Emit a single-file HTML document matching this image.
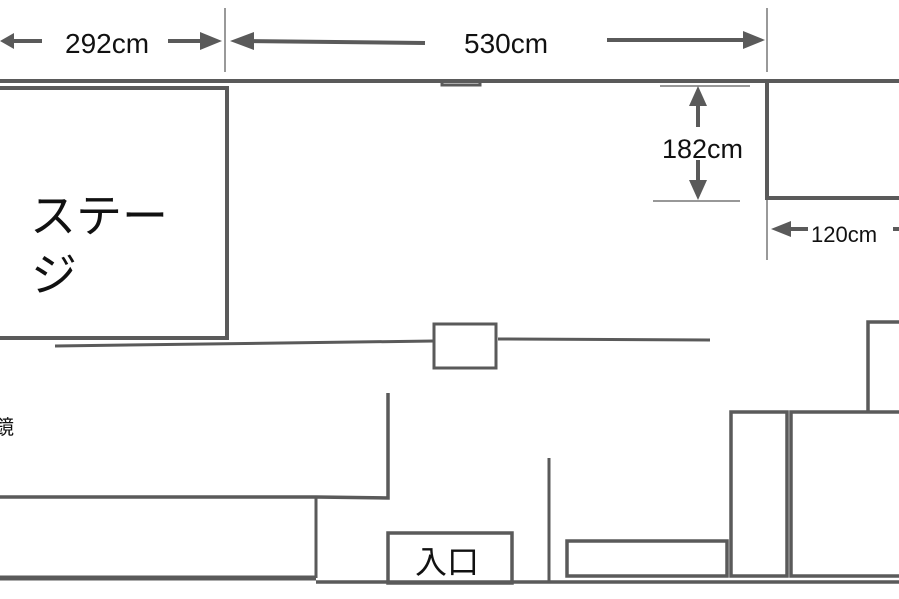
<!DOCTYPE html>
<html><head><meta charset="utf-8"><style>
html,body{margin:0;padding:0;background:#fff;}
svg{display:block;}
text{font-family:"Liberation Sans","Noto Sans CJK JP",sans-serif;fill:#111;}
</style></head><body>
<svg width="899" height="599" viewBox="0 0 899 599" xmlns="http://www.w3.org/2000/svg">
<g stroke="#5a5a5a" fill="none" stroke-width="4">
  <line x1="0" y1="81" x2="899" y2="81"/>
  <rect x="442" y="81" width="38" height="4" stroke-width="3"/>
  <polyline points="0,88 227,88 227,338 0,338"/>
  <polyline points="767,81 767,198 899,198"/>
  <line x1="55" y1="346" x2="434" y2="341" stroke-width="3"/>
  <rect x="434" y="324" width="62" height="44" stroke-width="3"/>
  <line x1="498" y1="339" x2="710" y2="340" stroke-width="3"/>
  <polyline points="388,393 388,498 316,497 0,497" stroke-width="3.5"/>
  <line x1="316" y1="497" x2="316" y2="578" stroke-width="3"/>
  <line x1="0" y1="578" x2="316" y2="578" stroke-width="5"/>
  <line x1="316" y1="582" x2="899" y2="582" stroke-width="3.5"/>
  <rect x="388" y="533" width="124" height="50" stroke-width="3.5"/>
  <line x1="549" y1="458" x2="549" y2="582" stroke-width="3"/>
  <rect x="567" y="541" width="160" height="35" stroke-width="3.5"/>
  <rect x="731" y="412" width="56" height="164" stroke-width="3.5"/>
  <rect x="791" y="412" width="112" height="164" stroke-width="3.5"/>
  <polyline points="868,412 868,322 899,322" stroke-width="3.5"/>
</g>
<g stroke="#777" stroke-width="1.5">
  <line x1="225" y1="8" x2="225" y2="72"/>
  <line x1="767" y1="8" x2="767" y2="72"/>
  <line x1="660" y1="86" x2="750" y2="86"/>
  <line x1="653" y1="201" x2="740" y2="201"/>
  <line x1="767" y1="200" x2="767" y2="260"/>
</g>
<g stroke="#5a5a5a" stroke-width="4">
  <line x1="10" y1="41" x2="42" y2="41"/>
  <line x1="168" y1="41" x2="205" y2="41"/>
  <line x1="248" y1="41" x2="425" y2="43"/>
  <line x1="607" y1="40" x2="748" y2="40"/>
  <line x1="698" y1="103" x2="698" y2="127"/>
  <line x1="698" y1="160" x2="698" y2="183"/>
  <line x1="788" y1="229" x2="808" y2="229"/>
  <line x1="893" y1="229" x2="899" y2="229"/>
</g>
<g fill="#5a5a5a">
  <polygon points="0,41 14,33 14,49"/>
  <polygon points="222,41 200,32 200,50"/>
  <polygon points="230,41 254,32 254,50"/>
  <polygon points="765,40 743,31 743,49"/>
  <polygon points="698,86 689,106 707,106"/>
  <polygon points="698,200 689,180 707,180"/>
  <polygon points="771,229 791,221 791,237"/>
</g>
<text x="65" y="53" font-size="28">292cm</text>
<text x="464" y="53" font-size="28">530cm</text>
<text x="662" y="158" font-size="27">182cm</text>
<text x="811" y="242" font-size="22">120cm</text>
<text x="30" y="232" font-size="46">ステー</text>
<text x="31" y="291" font-size="46">ジ</text>
<text x="-6" y="434" font-size="20">鏡</text>
<text x="415" y="573" font-size="32">入口</text>
</svg>
</body></html>
